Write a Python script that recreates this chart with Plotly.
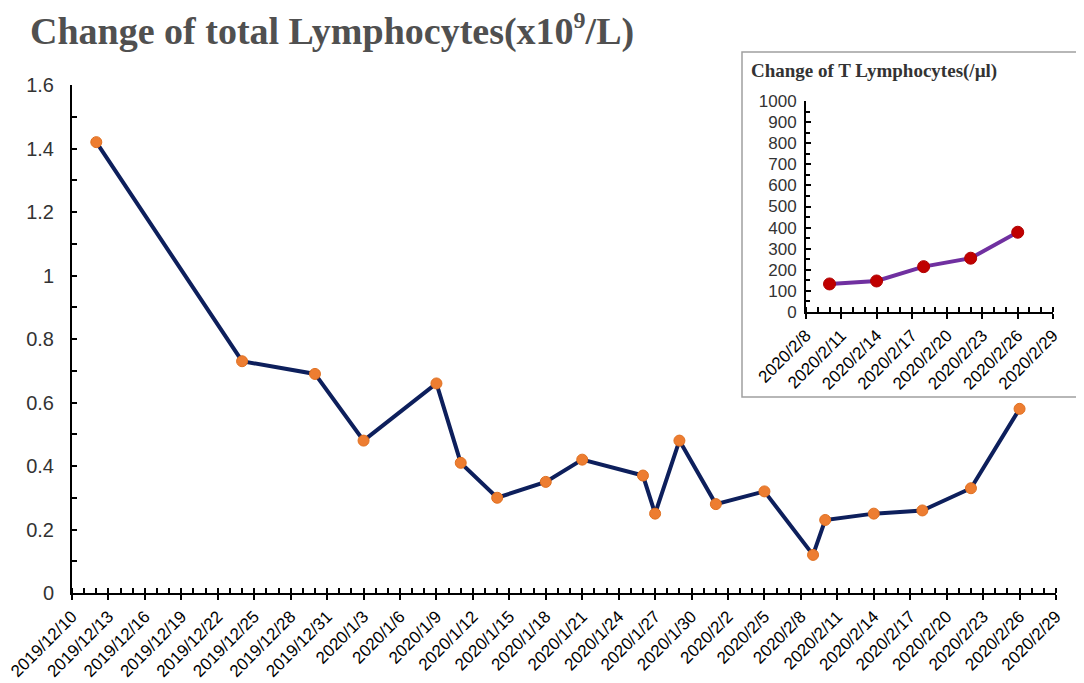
import plotly.graph_objects as go

# ---- data ----
main_dates = ["2019-12-12", "2019-12-24", "2019-12-30", "2020-01-03", "2020-01-09",
              "2020-01-11", "2020-01-14", "2020-01-18", "2020-01-21", "2020-01-26",
              "2020-01-27", "2020-01-29", "2020-02-01", "2020-02-05", "2020-02-09",
              "2020-02-10", "2020-02-14", "2020-02-18", "2020-02-22", "2020-02-26"]
main_values = [1.42, 0.73, 0.69, 0.48, 0.66, 0.41, 0.30, 0.35, 0.42, 0.37,
               0.25, 0.48, 0.28, 0.32, 0.12, 0.23, 0.25, 0.26, 0.33, 0.58]

inset_dates = ["2020-02-10", "2020-02-14", "2020-02-18", "2020-02-22", "2020-02-26"]
inset_values = [133, 147, 215, 255, 378]

main_range = ["2019-12-10", "2020-02-29"]
inset_range = ["2020-02-08", "2020-02-29"]

title_text = "Change of total Lymphocytes(x10<sup><span style='font-size:24px'>9</span></sup>/L)"
inset_title = "Change of T Lymphocytes(/µl)"

DAY = 86400000
sans = "Liberation Sans, Arial, sans-serif"
serif = "Liberation Serif, Times New Roman, serif"

fig = go.Figure()

fig.add_trace(go.Scatter(
    x=main_dates, y=main_values, mode="lines+markers",
    line=dict(color="#0D1F5C", width=4),
    marker=dict(color="#ED7D31", size=11, line=dict(color="#E07020", width=1)),
    xaxis="x", yaxis="y", showlegend=False, hoverinfo="skip"))

fig.add_trace(go.Scatter(
    x=inset_dates, y=inset_values, mode="lines+markers",
    line=dict(color="#7030A0", width=4),
    marker=dict(color="#C00000", size=12, line=dict(color="#B00000", width=1)),
    xaxis="x2", yaxis="y2", showlegend=False, hoverinfo="skip"))

# invisible traces for overlay axes (upper half of crossing major ticks)
fig.add_trace(go.Scatter(x=main_range, y=[None, None], xaxis="x3", yaxis="y",
                         showlegend=False, hoverinfo="skip"))
fig.add_trace(go.Scatter(x=inset_range, y=[None, None], xaxis="x4", yaxis="y2",
                         showlegend=False, hoverinfo="skip"))

# page has an 8px body margin; work in page pixels and convert
OFF = 8
W, H = 1084 - OFF, 683 - OFF
l, r, t, b = 72 - OFF, 28, 85 - OFF, 90
pw, ph = W - l - r, H - t - b

def px_x(p):
    return (p - OFF - l) / pw

def px_y(p):
    return (H - b - (p - OFF)) / ph

common_x = dict(type="date", showgrid=False, zeroline=False, showline=True,
                linecolor="black", linewidth=2, tickformat="%Y/%-m/%-d",
                tickangle=-45, tickcolor="black", tickwidth=1.5, ticklen=5,
                ticks="outside", tickfont=dict(family=sans, size=17, color="black"),
                automargin=False, ticklabeloverflow="allow",
                minor=dict(dtick=DAY, ticks="inside", ticklen=5, tickwidth=1.5,
                           tickcolor="black", showgrid=False))

overlay_x = dict(type="date", side="bottom", showline=False, showgrid=False,
                 zeroline=False, ticks="inside", ticklen=5, tickwidth=1.5,
                 tickcolor="black", showticklabels=False, automargin=False)

fig.update_layout(
    width=W, height=H,
    margin=dict(l=l, r=r, t=t, b=b, autoexpand=False),
    paper_bgcolor="white", plot_bgcolor="white",
    xaxis=dict(common_x, range=main_range, tick0=main_range[0], dtick=3 * DAY,
               domain=[0, 1], anchor="y"),
    xaxis3=dict(overlay_x, range=main_range, tick0=main_range[0], dtick=3 * DAY,
                overlaying="x", anchor="y"),
    yaxis=dict(range=[0, 1.6], dtick=0.2, tick0=0, showgrid=False, zeroline=False,
               showline=True, linecolor="black", linewidth=2, ticks="inside",
               ticklen=5, tickwidth=1.5, tickcolor="black", automargin=False,
               tickfont=dict(family=sans, size=20, color="#333333"),
               ticklabelstandoff=12,
               minor=dict(dtick=0.1, ticks="inside", ticklen=5, tickwidth=1.5,
                          tickcolor="black", showgrid=False),
               domain=[0, 1], anchor="x"),
    xaxis2=dict(common_x, range=inset_range, tick0=inset_range[0], dtick=3 * DAY,
                domain=[px_x(806), px_x(1053)], anchor="y2"),
    xaxis4=dict(overlay_x, range=inset_range, tick0=inset_range[0], dtick=3 * DAY,
                overlaying="x2", anchor="y2"),
    yaxis2=dict(range=[0, 1000], dtick=100, tick0=0, showgrid=False, zeroline=False,
                showline=True, linecolor="black", linewidth=2, ticks="inside",
                ticklen=5, tickwidth=1.5, tickcolor="black", automargin=False,
                tickfont=dict(family=sans, size=17, color="#333333"),
                ticklabelstandoff=4,
                minor=dict(dtick=50, ticks="inside", ticklen=4, tickwidth=1.5,
                           tickcolor="black", showgrid=False),
                domain=[px_y(312), px_y(101)], anchor="x2"),
    shapes=[dict(type="rect", xref="paper", yref="paper",
                 x0=px_x(742), x1=px_x(1081), y0=px_y(397), y1=px_y(52),
                 line=dict(color="#A0A0A0", width=1.5), fillcolor="white",
                 layer="below")],
    annotations=[
        dict(text=f"<b>{title_text}</b>", xref="paper", yref="paper",
             x=px_x(28), y=px_y(30), xanchor="left", yanchor="middle",
             showarrow=False, font=dict(family=serif, size=38, color="#505050")),
        dict(text=f"<b>{inset_title}</b>", xref="paper", yref="paper",
             x=px_x(749), y=px_y(71), xanchor="left", yanchor="middle",
             showarrow=False, font=dict(family=serif, size=19, color="#333333")),
    ],
)

fig.write_html("out.html")
